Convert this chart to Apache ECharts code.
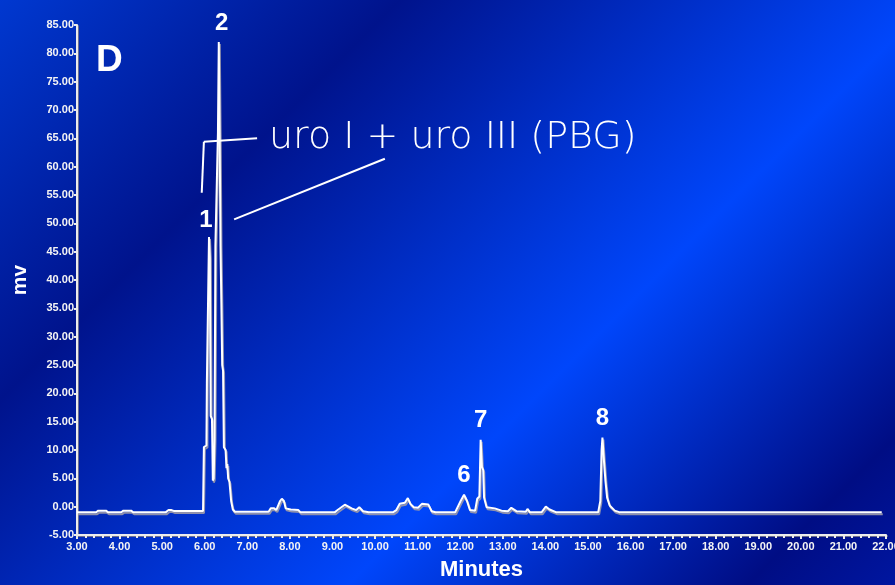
<!DOCTYPE html>
<html><head><meta charset="utf-8">
<script src="https://cdn.jsdelivr.net/npm/echarts@6/dist/echarts.min.js"></script>
<style>
html,body{margin:0;padding:0;width:895px;height:585px;overflow:hidden;}
#c{width:895px;height:585px;background:linear-gradient(135deg,#0038d0 0%,#00138c 27%,#0046fb 63%,#000d84 90%,#0016a0 100%);}
</style></head><body><div id="c"></div>
<script>
// retention time (minutes)
const times = [3.00,3.45,3.50,3.68,3.73,4.04,4.09,4.27,4.32,5.08,5.15,5.22,5.27,5.96,
  5.98,6.04,6.05,6.08,6.10,6.12,6.14,6.17,6.19,6.21,6.23,6.25,6.29,6.31,6.33,6.35,6.37,6.39,6.41,6.43,6.45,6.49,6.51,6.53,6.55,6.58,6.62,6.66,6.71,
  7.50,7.55,7.63,7.68,7.77,7.81,7.86,7.90,8.02,8.20,8.25,
  9.05,9.12,9.29,9.45,9.56,9.63,9.72,9.85,
  10.42,10.50,10.58,10.70,10.77,10.83,10.91,11.01,11.10,11.25,11.33,11.42,
  11.88,12.01,12.09,12.16,12.23,12.35,12.40,12.45,12.48,12.51,12.54,12.56,12.62,12.81,12.97,13.12,13.20,13.32,13.54,13.58,13.64,13.91,14.01,14.10,14.26,
  15.24,15.29,15.32,15.34,15.37,15.41,15.45,15.51,15.63,15.75,21.90];
// detector signal (mV)
const mv = [-1.0,-1.0,-0.7,-0.7,-1.0,-1.0,-0.7,-0.7,-1.0,-1.0,-0.6,-0.6,-0.75,-0.75,
  10.5,10.8,21.8,22.0,47.6,44.0,16.0,15.5,4.6,5.0,12.0,46.0,46.0,66.0,82.0,66.0,46.0,36.0,25.0,24.0,10.5,10.0,6.8,7.5,5.0,4.4,1.0,-0.5,-0.9,
  -0.9,-0.3,-0.3,-0.6,1.0,1.4,1.0,-0.3,-0.5,-0.6,-1.0,
  -1.0,-0.6,0.35,-0.3,-0.6,-0.1,-0.8,-1.0,
  -1.0,-0.6,0.5,0.7,1.5,0.5,-0.1,-0.2,0.5,0.4,-0.8,-1.0,
  -1.0,1.0,2.1,1.0,-0.6,-0.7,1.4,1.8,11.8,7.0,6.5,1.6,-0.1,-0.3,-0.7,-0.8,-0.2,-0.8,-0.9,-0.4,-1.0,-1.0,0.0,-0.5,-1.0,
  -1.0,1.0,9.9,12.2,8.7,4.6,1.6,0.2,-0.7,-1.0,-1.0];
// peak numbers
const peakNames = ['1','2','6','7','8'];
const peakTimes = [6.10,6.33,12.09,12.48,15.34];
const peakHeights = [47.6,82.0,2.1,11.8,12.2];
// annotation
const annotationText = 'uro I + uro III (PBG)';
const annotationAnchor = [7.51, 65.0];
const leaderLines = [
  [[5.93,55.4],[5.98,64.4]],
  [[5.98,64.4],[7.23,65.0]],
  [[6.69,50.7],[10.23,61.4]]
];
const panelLetter = 'D';
const xName = 'Minutes', yName = 'mv';

const chart = echarts.init(document.getElementById('c'), null, {renderer:'canvas'});
const shadowTxt = {textShadowColor:'rgba(120,120,140,0.95)', textShadowOffsetX:1, textShadowOffsetY:1, textShadowBlur:0};
const axisLineStyle = {color:'#ececec', width:2, shadowColor:'rgba(120,120,140,0.9)', shadowOffsetX:1, shadowOffsetY:1};
const labelOffsets = {'1':[-3,2], '2':[3,0]};

chart.setOption({
  animation:false,
  backgroundColor:'transparent',
  grid:{left:77, right:9, top:25, bottom:50, containLabel:false, outerBoundsMode:'none'},
  xAxis:{
    type:'value', min:3, max:22, interval:1,
    name:xName, nameLocation:'middle', nameGap:24,
    nameTextStyle:Object.assign({color:'#fff', fontSize:22, fontWeight:'bold', fontFamily:'Liberation Sans'}, shadowTxt),
    axisLine:{show:true, onZero:false, lineStyle:axisLineStyle},
    axisTick:{show:true, length:4, lineStyle:{color:'#ececec', width:2}},
    minorTick:{show:true, splitNumber:5, length:3, lineStyle:{color:'#ececec', width:2}},
    splitLine:{show:false},
    axisLabel:Object.assign({color:'#f4f4f4', fontSize:11, fontWeight:'bold', fontFamily:'Liberation Sans', margin:6,
      hideOverlap:false, formatter:v=>v.toFixed(2)}, shadowTxt)
  },
  yAxis:{
    type:'value', min:-5, max:85, interval:5,
    name:yName, nameLocation:'middle', nameGap:46, nameRotate:90,
    nameTextStyle:Object.assign({color:'#fff', fontSize:21, fontWeight:'bold', fontFamily:'Liberation Sans'}, shadowTxt),
    axisLine:{show:true, onZero:false, lineStyle:axisLineStyle},
    axisTick:{show:true, length:3, lineStyle:{color:'#ececec', width:2}},
    splitLine:{show:false},
    axisLabel:Object.assign({color:'#f4f4f4', fontSize:11, fontWeight:'bold', fontFamily:'Liberation Sans', margin:3,
      formatter:v=>v.toFixed(2)}, shadowTxt)
  },
  series:[
    {
      type:'line', data:times.map((t,i)=>[t,mv[i]]), showSymbol:false, symbol:'none',
      lineStyle:{color:'#ffffff', width:2, shadowColor:'rgba(150,150,170,0.95)', shadowOffsetX:1, shadowOffsetY:2, shadowBlur:0},
      markLine:{
        silent:true, symbol:['none','none'], label:{show:false},
        lineStyle:{color:'#ffffff', width:2, type:'solid', opacity:1},
        data:leaderLines.map(l=>[{coord:l[0]},{coord:l[1]}])
      },
      z:3
    },
    {
      type:'scatter', symbolSize:0, itemStyle:{opacity:1},
      data:peakNames.map((n,i)=>({value:[peakTimes[i],peakHeights[i]], name:n,
        label:{offset:labelOffsets[n]||[0,0]}})),
      label:Object.assign({show:true, position:'top', distance:7, formatter:p=>p.name, opacity:1,
        color:'#ffffff', fontSize:24, fontWeight:'bold', fontFamily:'Liberation Sans'}, shadowTxt),
      z:4
    }
  ]
});

const ap = chart.convertToPixel({gridIndex:0}, annotationAnchor);
chart.setOption({
  graphic:[
    {type:'text', x:ap[0], y:ap[1], style:{text:annotationText, fill:'#ffffff',
      font:'200 38px "DejaVu Sans", sans-serif', verticalAlign:'middle', align:'left'}},
    {type:'text', left:96, top:42, style:{text:panelLetter, fill:'#ffffff',
      font:'bold 37px "Liberation Sans", sans-serif', shadowColor:'rgba(120,120,140,0.9)', shadowOffsetX:1, shadowOffsetY:1}}
  ]
});
</script></body></html>
